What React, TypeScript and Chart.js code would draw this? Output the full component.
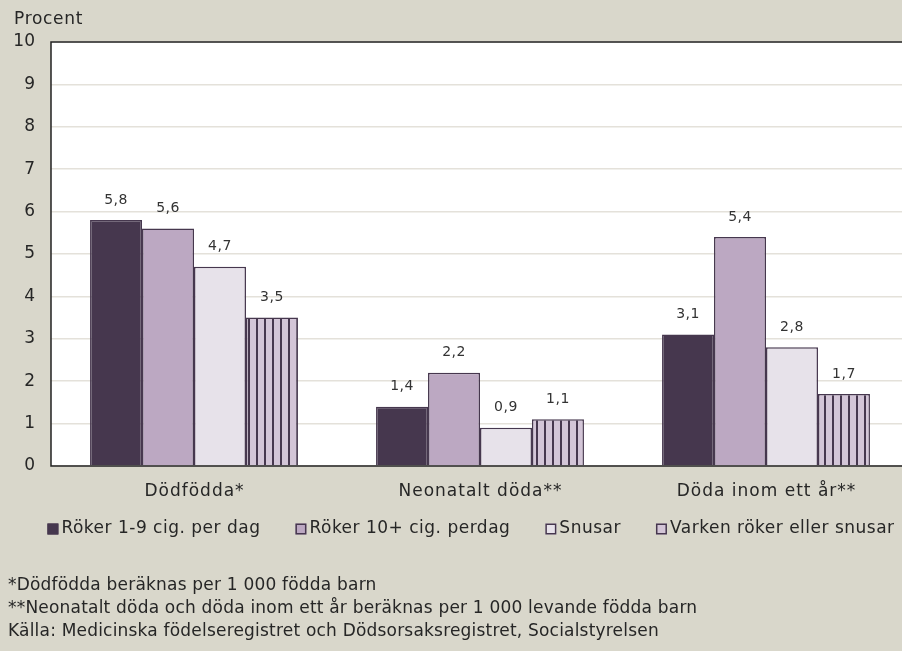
import React, { useEffect, useRef } from "react";
import { Chart, registerables } from "chart.js";
Chart.register(...registerables);

const categories = ["Dödfödda*", "Neonatalt döda**", "Döda inom ett år**"];
const seriesNames = [
  "Röker 1-9 cig. per dag",
  "Röker 10+ cig. perdag",
  "Snusar",
  "Varken röker eller snusar",
];
const roker19 = [5.8, 1.4, 3.1];
const roker10 = [5.6, 2.2, 5.4];
const snusar = [4.7, 0.9, 2.8];
const varken = [3.5, 1.1, 1.7];
const yMin = 0;
const yMax = 10;
const yStep = 1;
const yTitle = "Procent";
const footnotes = [
  "*Dödfödda beräknas per 1 000 födda barn",
  "**Neonatalt döda och döda inom ett år beräknas per 1 000 levande födda barn",
  "Källa: Medicinska födelseregistret och Dödsorsaksregistret, Socialstyrelsen",
];

const FONT = "'DejaVu Sans', sans-serif";
const DARK = "#46374e";
const BG = "#d9d7cb";
const TEXT = "#262626";

function makeStripe(): CanvasPattern | string {
  const c = document.createElement("canvas");
  c.width = 8;
  c.height = 8;
  const ctx = c.getContext("2d");
  if (!ctx) return "#d3c5d7";
  ctx.fillStyle = "#d3c5d7";
  ctx.fillRect(0, 0, 8, 8);
  ctx.fillStyle = DARK;
  ctx.fillRect(0, 0, 2, 8);
  return ctx.createPattern(c, "repeat") || "#d3c5d7";
}

export default function App() {
  const ref = useRef<HTMLCanvasElement | null>(null);

  useEffect(() => {
    if (!ref.current) return;
    const stripe = makeStripe();
    const fills: any[] = [DARK, "#bca8c2", "#e7e2ea", stripe];
    const legendFills = [DARK, "#bca8c2", "#e7e2ea", "#d3c5d7"];
    const values = [roker19, roker10, snusar, varken];

    const areaPlugin = {
      id: "area",
      beforeDraw(chart: any) {
        const { ctx, chartArea: a } = chart;
        ctx.save();
        ctx.fillStyle = "#ffffff";
        ctx.fillRect(a.left, a.top, a.right - a.left, a.bottom - a.top);
        ctx.restore();
      },
      afterDatasetsDraw(chart: any) {
        const { ctx, chartArea: a } = chart;
        ctx.save();
        ctx.strokeStyle = "#222222";
        ctx.lineWidth = 1.5;
        ctx.beginPath();
        ctx.moveTo(a.right, a.top);
        ctx.lineTo(a.left, a.top);
        ctx.lineTo(a.left, a.bottom);
        ctx.lineTo(a.right, a.bottom);
        ctx.stroke();
        // data labels
        ctx.fillStyle = "#333333";
        ctx.font = `14px ${FONT}`;
        (ctx as any).letterSpacing = "0.5px";
        ctx.textAlign = "center";
        ctx.textBaseline = "middle";
        chart.data.datasets.forEach((ds: any, i: number) => {
          const meta = chart.getDatasetMeta(i);
          meta.data.forEach((el: any, j: number) => {
            const v = ds.data[j];
            ctx.fillText(String(v).replace(".", ","), el.x, el.y - 20);
          });
        });
        ctx.restore();
      },
      afterDraw(chart: any) {
        const { ctx, chartArea: a } = chart;
        ctx.save();
        ctx.fillStyle = TEXT;
        ctx.textBaseline = "middle";
        // x category labels
        ctx.font = `17px ${FONT}`;
        (ctx as any).letterSpacing = "1px";
        ctx.textAlign = "center";
        const xs = chart.scales.x;
        chart.data.labels.forEach((lab: string, i: number) => {
          ctx.fillText(lab, xs.getPixelForTick(i) + 0.5, a.bottom + 26);
        });
        ctx.textAlign = "left";
        (ctx as any).letterSpacing = "0.7px";
        ctx.fillText(yTitle, 14, 20);
        // legend
        (ctx as any).letterSpacing = "0.5px";
        const gap = 35;
        const box = 11;
        const widths = chart.data.datasets.map(
          (d: any) => box + 3 + ctx.measureText(d.label).width
        );
        const total =
          widths.reduce((s: number, w: number) => s + w, 0) + gap * (widths.length - 1);
        let x = 471 - total / 2;
        const ly = 529;
        chart.data.datasets.forEach((d: any, i: number) => {
          ctx.fillStyle = legendFills[i];
          ctx.fillRect(x, ly - 5.5, box, box);
          ctx.strokeStyle = DARK;
          ctx.lineWidth = 1.5;
          ctx.strokeRect(x + 0.75, ly - 4.75, box - 1.5, box - 1.5);
          ctx.fillStyle = TEXT;
          ctx.fillText(d.label, x + box + 3, ly);
          x += widths[i] + gap;
        });
        // footnotes
        (ctx as any).letterSpacing = "0.2px";
        footnotes.forEach((t, i) => {
          ctx.fillText(t, 8, 586 + i * 23);
        });
        ctx.restore();
      },
    };

    const chart = new Chart(ref.current, {
      type: "bar",
      data: {
        labels: categories,
        datasets: values.map((v, i) => ({
          label: seriesNames[i],
          data: v,
          backgroundColor: fills[i],
          borderColor: DARK,
          borderWidth: 1.5,
          categoryPercentage: 0.727,
          barPercentage: 1,
        })),
      },
      options: {
        responsive: false,
        animation: false,
        layout: { padding: { top: 42, left: 0, right: 3, bottom: 155 } },
        plugins: {
          legend: { display: false },
          tooltip: { enabled: false },
          title: { display: false },
        },
        scales: {
          x: {
            grid: { display: false, drawTicks: false },
            border: { display: false },
            ticks: { display: false },
            afterFit: (s: any) => {
              s.height = 30;
            },
          },
          y: {
            min: yMin,
            max: yMax,
            ticks: {
              stepSize: yStep,
              color: TEXT,
              font: { family: FONT, size: 17 },
              padding: 16,
            },
            grid: { color: "#e4e1da", lineWidth: 1.5, drawTicks: false },
            border: { display: false },
            afterFit: (s: any) => {
              s.width = 51;
            },
          },
        },
      } as any,
      plugins: [areaPlugin],
    });
    return () => chart.destroy();
  }, []);

  return (
    <div
      style={{
        position: "fixed",
        left: 0,
        top: 0,
        width: 902,
        height: 651,
        overflow: "hidden",
        background: BG,
      }}
    >
      <canvas ref={ref} width={912} height={651} style={{ display: "block" }} />
    </div>
  );
}
